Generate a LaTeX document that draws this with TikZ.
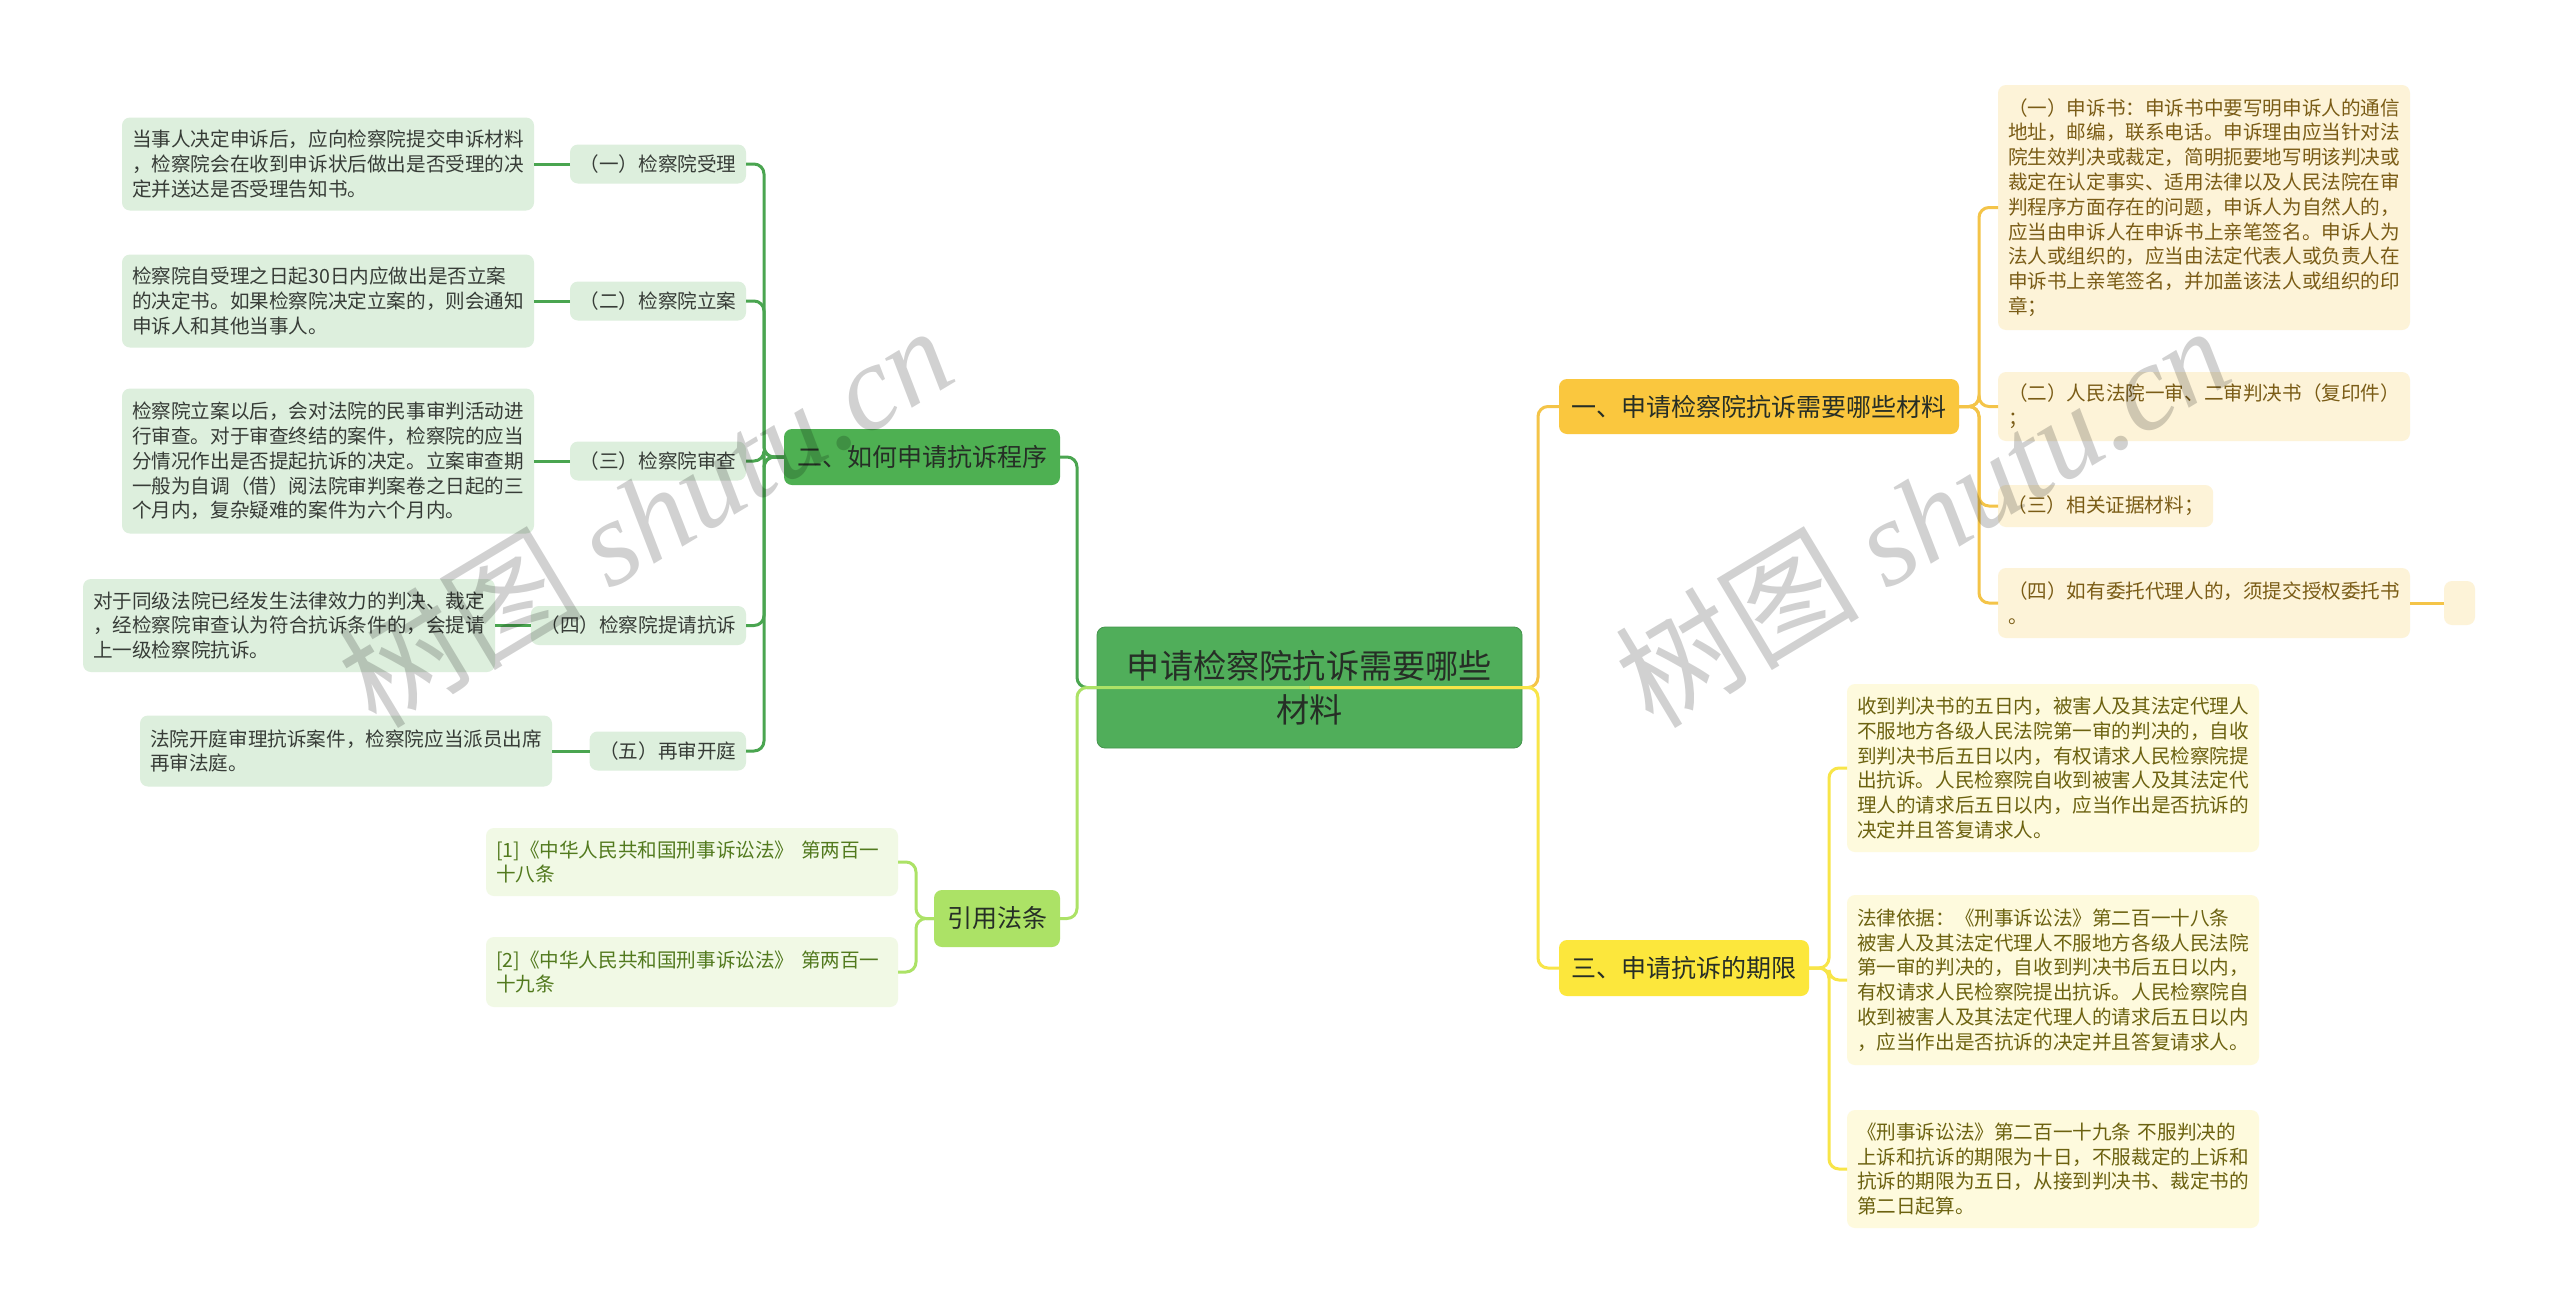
\documentclass[tikz,border=0pt]{standalone}
\usepackage{fontspec}
\setmainfont{Noto Sans CJK SC}
\newfontfamily\wmlatin{Liberation Serif}
\usetikzlibrary{calc}

\definecolor{rootgreen}{RGB}{80,174,90}
\definecolor{procgreen}{RGB}{78,176,82}
\definecolor{proclight}{RGB}{221,239,221}
\definecolor{proclink}{RGB}{74,165,80}
\definecolor{citegreen}{RGB}{172,226,102}
\definecolor{citelight}{RGB}{241,249,229}
\definecolor{citetext}{RGB}{82,122,30}
\definecolor{matorange}{RGB}{250,199,62}
\definecolor{matlight}{RGB}{253,243,216}
\definecolor{matlink}{RGB}{244,196,72}
\definecolor{mattext}{RGB}{122,92,22}
\definecolor{termyellow}{RGB}{252,231,60}
\definecolor{termlight}{RGB}{254,250,221}
\definecolor{termlink}{RGB}{248,229,72}
\definecolor{termtext}{RGB}{108,98,16}
\definecolor{darktext}{RGB}{38,46,38}
\definecolor{leaftext}{RGB}{55,60,55}

\newcommand{\leafsize}{\fontsize{9.8pt}{12.4pt}\selectfont}
\newcommand{\branchsize}{\fontsize{12.5pt}{15pt}\selectfont}

\begin{document}
\begin{tikzpicture}[x=0.5pt,y=-0.5pt,
  every node/.style={inner sep=0pt, outer sep=0pt},
  box/.style={rounded corners=4pt},
  rootbox/.style={box, fill=rootgreen, draw=rootgreen!85!black, line width=0.4pt,
    text=darktext, align=center, font=\fontsize{16.6pt}{22pt}\selectfont,
    minimum width=212.5pt, minimum height=60.5pt},
  branch/.style={box, text=darktext, font=\branchsize, minimum height=28pt},
  leaf/.style={box, text width=196pt, align=left, minimum width=206pt, font=\leafsize},
  tag/.style={box, font=\leafsize, inner xsep=4.8pt, minimum height=19.5pt},
  pleaf/.style={leaf, fill=proclight, text=leaftext},
  cleaf/.style={leaf, fill=citelight, text=citetext},
  mleaf/.style={leaf, fill=matlight, text=mattext},
  tleaf/.style={leaf, fill=termlight, text=termtext},
  lnk/.style={line width=1.5pt, rounded corners=5pt},
  wm/.style={text=black, text opacity=0.18, font=\fontsize{61pt}{61pt}\selectfont}]

\fill[white] (0,0) rectangle (2560,1312);
\useasboundingbox (0,0) rectangle (2560,1312);

% root and first level
\node[rootbox] (ctr) at (1309.5,687.5) {申请检察院抗诉需要哪些\\材料};
\node[branch, fill=procgreen, minimum width=138pt] (proc) at (922,457) {二、如何申请抗诉程序};
\node[branch, fill=citegreen, minimum width=63pt, minimum height=28.5pt] (cite) at (997,918.5) {引用法条};
\node[branch, fill=matorange, minimum width=200pt, minimum height=27.5pt] (mat) at (1759,406.5) {一、申请检察院抗诉需要哪些材料};
\node[branch, fill=termyellow, minimum width=125pt] (term) at (1684,968) {三、申请抗诉的期限};

% procedure steps
\node[tag, fill=proclight, text=leaftext, anchor=east] (s1) at (746,164) {（一）检察院受理};
\node[tag, fill=proclight, text=leaftext, anchor=east] (s2) at (746,301) {（二）检察院立案};
\node[tag, fill=proclight, text=leaftext, anchor=east] (s3) at (746,461) {（三）检察院审查};
\node[tag, fill=proclight, text=leaftext, anchor=east] (s4) at (746,625.5) {（四）检察院提请抗诉};
\node[tag, fill=proclight, text=leaftext, anchor=east] (s5) at (746,751) {（五）再审开庭};

\node[pleaf, anchor=east, minimum height=46.5pt] (l1) at (534,164) {当事人决定申诉后，应向检察院提交申诉材料\\，检察院会在收到申诉状后做出是否受理的决\\定并送达是否受理告知书。};
\node[pleaf, anchor=east, minimum height=46.5pt] (l2) at (534,301) {检察院自受理之日起30日内应做出是否立案\\的决定书。如果检察院决定立案的，则会通知\\申诉人和其他当事人。};
\node[pleaf, anchor=east, minimum height=72.5pt] (l3) at (534,461) {检察院立案以后，会对法院的民事审判活动进\\行审查。对于审查终结的案件，检察院的应当\\分情况作出是否提起抗诉的决定。立案审查期\\一般为自调（借）阅法院审判案卷之日起的三\\个月内，复杂疑难的案件为六个月内。};
\node[pleaf, anchor=east, minimum height=46.5pt] (l4) at (495,625.5) {对于同级法院已经发生法律效力的判决、裁定\\，经检察院审查认为符合抗诉条件的，会提请\\上一级检察院抗诉。};
\node[pleaf, anchor=east, minimum height=35.5pt] (l5) at (552,751) {法院开庭审理抗诉案件，检察院应当派员出席\\再审法庭。};

% cited articles
\node[cleaf, anchor=east, minimum height=34pt] (c1) at (898,862) {[1]《中华人民共和国刑事诉讼法》 第两百一\\十八条};
\node[cleaf, anchor=east, minimum height=35pt] (c2) at (898,972) {[2]《中华人民共和国刑事诉讼法》 第两百一\\十九条};

% materials
\node[mleaf, anchor=west, minimum height=122.5pt] (r1) at (1998,207.5) {（一）申诉书：申诉书中要写明申诉人的通信\\地址，邮编，联系电话。申诉理由应当针对法\\院生效判决或裁定，简明扼要地写明该判决或\\裁定在认定事实、适用法律以及人民法院在审\\判程序方面存在的问题，申诉人为自然人的，\\应当由申诉人在申诉书上亲笔签名。申诉人为\\法人或组织的，应当由法定代表人或负责人在\\申诉书上亲笔签名，并加盖该法人或组织的印\\章；};
\node[mleaf, anchor=west, minimum height=34.5pt] (r2) at (1998,406.5) {（二）人民法院一审、二审判决书（复印件）\\；};
\node[tag, fill=matlight, text=mattext, anchor=west, minimum height=21pt] (r3) at (1998,506) {（三）相关证据材料；};
\node[mleaf, anchor=west, minimum height=35pt] (r4) at (1998,603) {（四）如有委托代理人的，须提交授权委托书\\。};
\node[box, fill=matlight, anchor=west, minimum width=15.5pt, minimum height=22pt] (r5) at (2444,603) {};

% time limits
\node[tleaf, anchor=west, minimum height=84pt] (t1) at (1847,768) {收到判决书的五日内，被害人及其法定代理人\\不服地方各级人民法院第一审的判决的，自收\\到判决书后五日以内，有权请求人民检察院提\\出抗诉。人民检察院自收到被害人及其法定代\\理人的请求后五日以内，应当作出是否抗诉的\\决定并且答复请求人。};
\node[tleaf, anchor=west, minimum height=85pt] (t2) at (1847,980) {法律依据：《刑事诉讼法》第二百一十八条\\被害人及其法定代理人不服地方各级人民法院\\第一审的判决的，自收到判决书后五日以内，\\有权请求人民检察院提出抗诉。人民检察院自\\收到被害人及其法定代理人的请求后五日以内\\，应当作出是否抗诉的决定并且答复请求人。};
\node[tleaf, anchor=west, minimum height=59pt] (t3) at (1847,1169) {《刑事诉讼法》第二百一十九条 不服判决的\\上诉和抗诉的期限为十日，不服裁定的上诉和\\抗诉的期限为五日，从接到判决书、裁定书的\\第二日起算。};

% connectors
\foreach \s in {s1,s2,s3,s4,s5}
  \draw[lnk, proclink] (proc.west) -- ++(-20,0) |- (\s.east);
\draw[lnk, proclink] (s1.west) -- (l1.east);
\draw[lnk, proclink] (s2.west) -- (l2.east);
\draw[lnk, proclink] (s3.west) -- (l3.east);
\draw[lnk, proclink] (s4.west) -- (l4.east);
\draw[lnk, proclink] (s5.west) -- (l5.east);

\foreach \c in {c1,c2}
  \draw[lnk, citegreen] (cite.west) -- ++(-18,0) |- (\c.east);

\foreach \r in {r1,r2,r3,r4}
  \draw[lnk, matlink] (mat.east) -- ++(20,0) |- (\r.west);
\draw[lnk, matlink] (r4.east) -- (r5.west);

\foreach \t in {t1,t2,t3}
  \draw[lnk, termlink] (term.east) -- ++(20,0) |- (\t.west);

\draw[lnk, proclink] (ctr.center) -- (ctr.west) -- ++(-20,0) |- (proc.east);
\draw[lnk, citegreen] (ctr.center) -- (ctr.west) -- ++(-20,0) |- (cite.east);
\draw[lnk, matlink] (ctr.center) -- (ctr.east) -- ++(16,0) |- (mat.west);
\draw[lnk, termlink] (ctr.center) -- (ctr.east) -- ++(16,0) |- (term.west);

% watermarks
\node[wm, rotate=31] (wm1) at (645,515) {树图 {\wmlatin\itshape shutu.cn}};
\node[wm, rotate=31] (wm2) at (1922,515) {树图 {\wmlatin\itshape shutu.cn}};
\end{tikzpicture}
\end{document}
